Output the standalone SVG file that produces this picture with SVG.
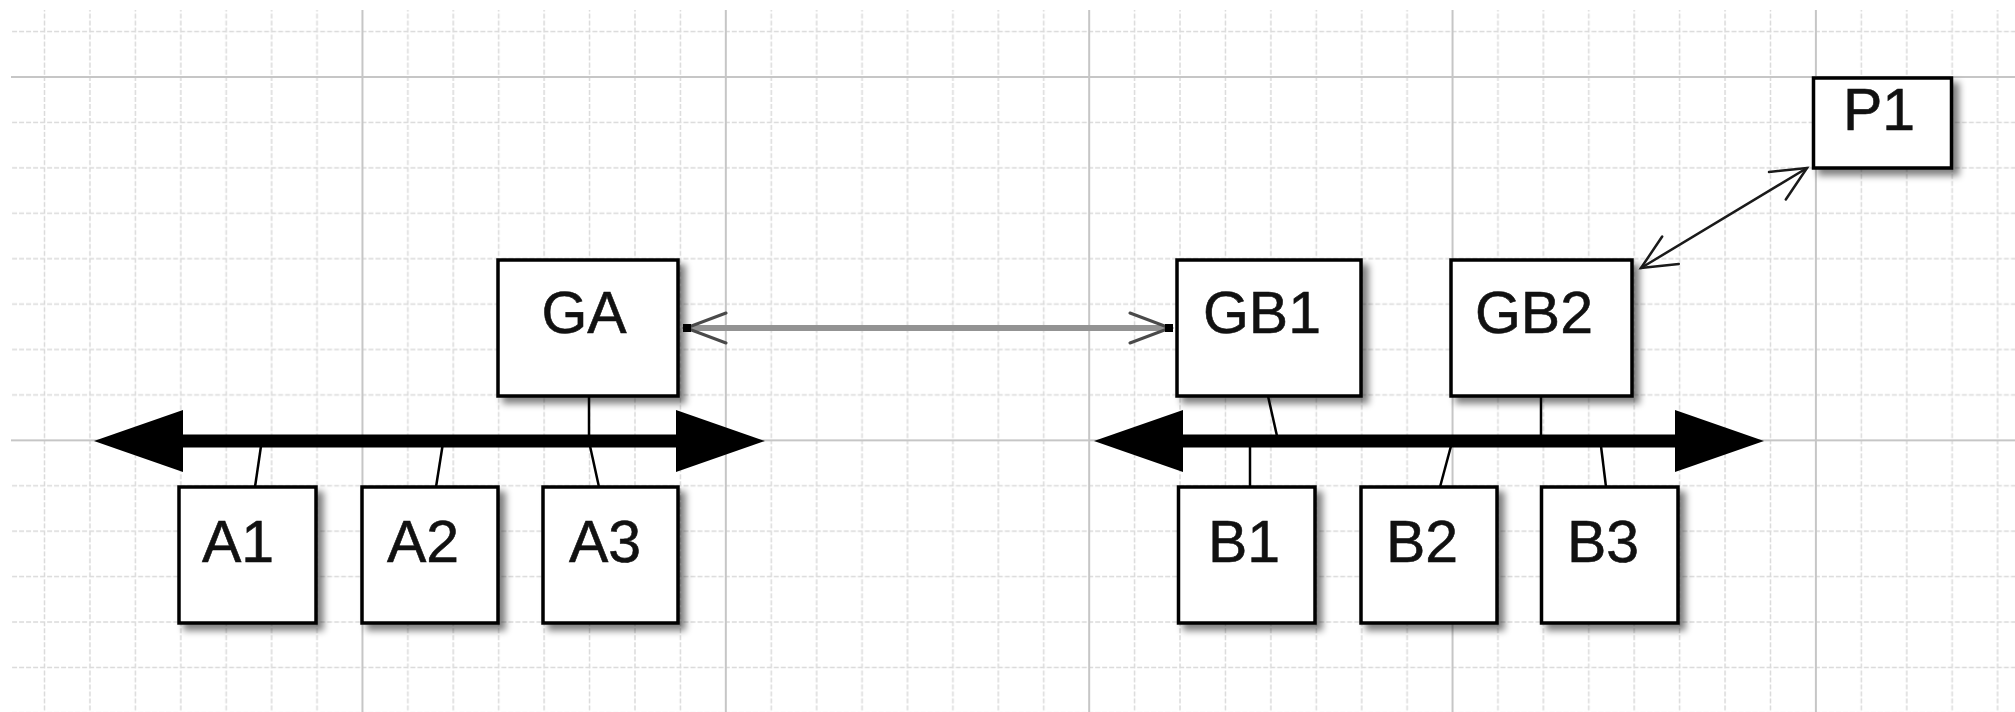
<svg xmlns="http://www.w3.org/2000/svg" width="2015" height="712" viewBox="0 0 2015 712">
<style>
.minor{stroke:#dadada;stroke-width:1.5;stroke-dasharray:5 2;fill:none}
.major{stroke:#c6c6c6;stroke-width:2;fill:none}
.box{fill:#fff;stroke:#000;stroke-width:3.5;filter:url(#shadow)}
.lbl{font-family:"Liberation Sans",Arial,sans-serif;font-size:59px;fill:#111;stroke:#111;stroke-width:0.6;text-anchor:middle}
.tick{stroke:#000;stroke-width:2.5;fill:none}
.bus{stroke:#000;stroke-width:13;fill:none}
.head{fill:#000}
.link{stroke:#939393;stroke-width:6;fill:none}
.linkarm{stroke:#4a4a4a;stroke-width:3;fill:none;stroke-linecap:round}
.thin{stroke:#1a1a1a;stroke-width:2.5;fill:none;stroke-linecap:round}
</style>
<defs>
<pattern id="grid" patternUnits="userSpaceOnUse" x="-1.9" y="76" width="363.36" height="363.36">
<path class="minor" d="M46.42 0V363.36M91.84 0V363.36M137.26 0V363.36M182.68 0V363.36M228.1 0V363.36M273.52 0V363.36M318.94 0V363.36M0 46.42H363.36M0 91.84H363.36M0 137.26H363.36M0 182.68H363.36M0 228.1H363.36M0 273.52H363.36M0 318.94H363.36"/>
<path class="major" d="M1 0V363.36M0 1H363.36"/>
</pattern>
<filter id="shadow" x="-20%" y="-20%" width="150%" height="150%">
<feGaussianBlur in="SourceAlpha" stdDeviation="3.5"/>
<feOffset dx="6" dy="6" result="o"/>
<feComponentTransfer><feFuncA type="linear" slope="0.5"/></feComponentTransfer>
<feMerge><feMergeNode/><feMergeNode in="SourceGraphic"/></feMerge>
</filter>
</defs>
<rect x="0" y="0" width="2015" height="712" fill="#fff"/>
<rect x="11" y="10" width="2004" height="702" fill="url(#grid)"/>

<g id="connectors">
<line class="bus" x1="180" y1="441" x2="680" y2="441"/>
<polygon class="head" points="94,441 183,410 183,472"/>
<polygon class="head" points="765,441 676,410 676,472"/>
<line class="bus" x1="1180" y1="441" x2="1678" y2="441"/>
<polygon class="head" points="1094,441 1183,410 1183,472"/>
<polygon class="head" points="1764,441 1675,410 1675,472"/>
<line class="tick" x1="261" y1="446" x2="255" y2="487"/>
<line class="tick" x1="442.5" y1="446" x2="436" y2="487"/>
<line class="tick" x1="590" y1="446" x2="599" y2="487"/>
<line class="tick" x1="589" y1="396" x2="589" y2="436"/>
<line class="tick" x1="1268" y1="396" x2="1277" y2="436"/>
<line class="tick" x1="1541" y1="396" x2="1541" y2="436"/>
<line class="tick" x1="1250" y1="446" x2="1250" y2="487"/>
<line class="tick" x1="1451" y1="446" x2="1440" y2="487"/>
<line class="tick" x1="1601" y1="446" x2="1606" y2="487"/>
<line class="link" x1="690" y1="328" x2="1166" y2="328"/>
<path class="linkarm" d="M726 313L686 328L726 343M1130 313L1170 328L1130 343"/>
<rect x="683" y="324" width="8" height="8" fill="#000"/>
<rect x="1165" y="324" width="8" height="8" fill="#000"/>
<line class="thin" x1="1641" y1="268" x2="1807" y2="168"/>
<path class="thin" d="M1769 172L1807 168L1785.8 199.5M1678.8 264L1641 268L1662.2 236.5"/>
</g>

<g id="node-GA"><rect class="box" x="498" y="260" width="180" height="136"/><text class="lbl" x="584" y="333">GA</text></g>
<g id="node-GB1"><rect class="box" x="1177" y="260" width="184" height="136"/><text class="lbl" x="1262" y="333">GB1</text></g>
<g id="node-GB2"><rect class="box" x="1451" y="260" width="181" height="136"/><text class="lbl" x="1534" y="333">GB2</text></g>
<g id="node-A1"><rect class="box" x="179" y="487" width="137" height="136"/><text class="lbl" x="238" y="562">A1</text></g>
<g id="node-A2"><rect class="box" x="362" y="487" width="136" height="136"/><text class="lbl" x="423" y="562">A2</text></g>
<g id="node-A3"><rect class="box" x="543" y="487" width="135" height="136"/><text class="lbl" x="605" y="562">A3</text></g>
<g id="node-B1"><rect class="box" x="1178.5" y="487" width="136.5" height="136"/><text class="lbl" x="1244" y="562">B1</text></g>
<g id="node-B2"><rect class="box" x="1361" y="487" width="136" height="136"/><text class="lbl" x="1422" y="562">B2</text></g>
<g id="node-B3"><rect class="box" x="1541.5" y="487" width="136.5" height="136"/><text class="lbl" x="1603" y="562">B3</text></g>
<g id="node-P1"><rect class="box" x="1813.5" y="78" width="138" height="90"/><text class="lbl" x="1879" y="130">P1</text></g>
</svg>
